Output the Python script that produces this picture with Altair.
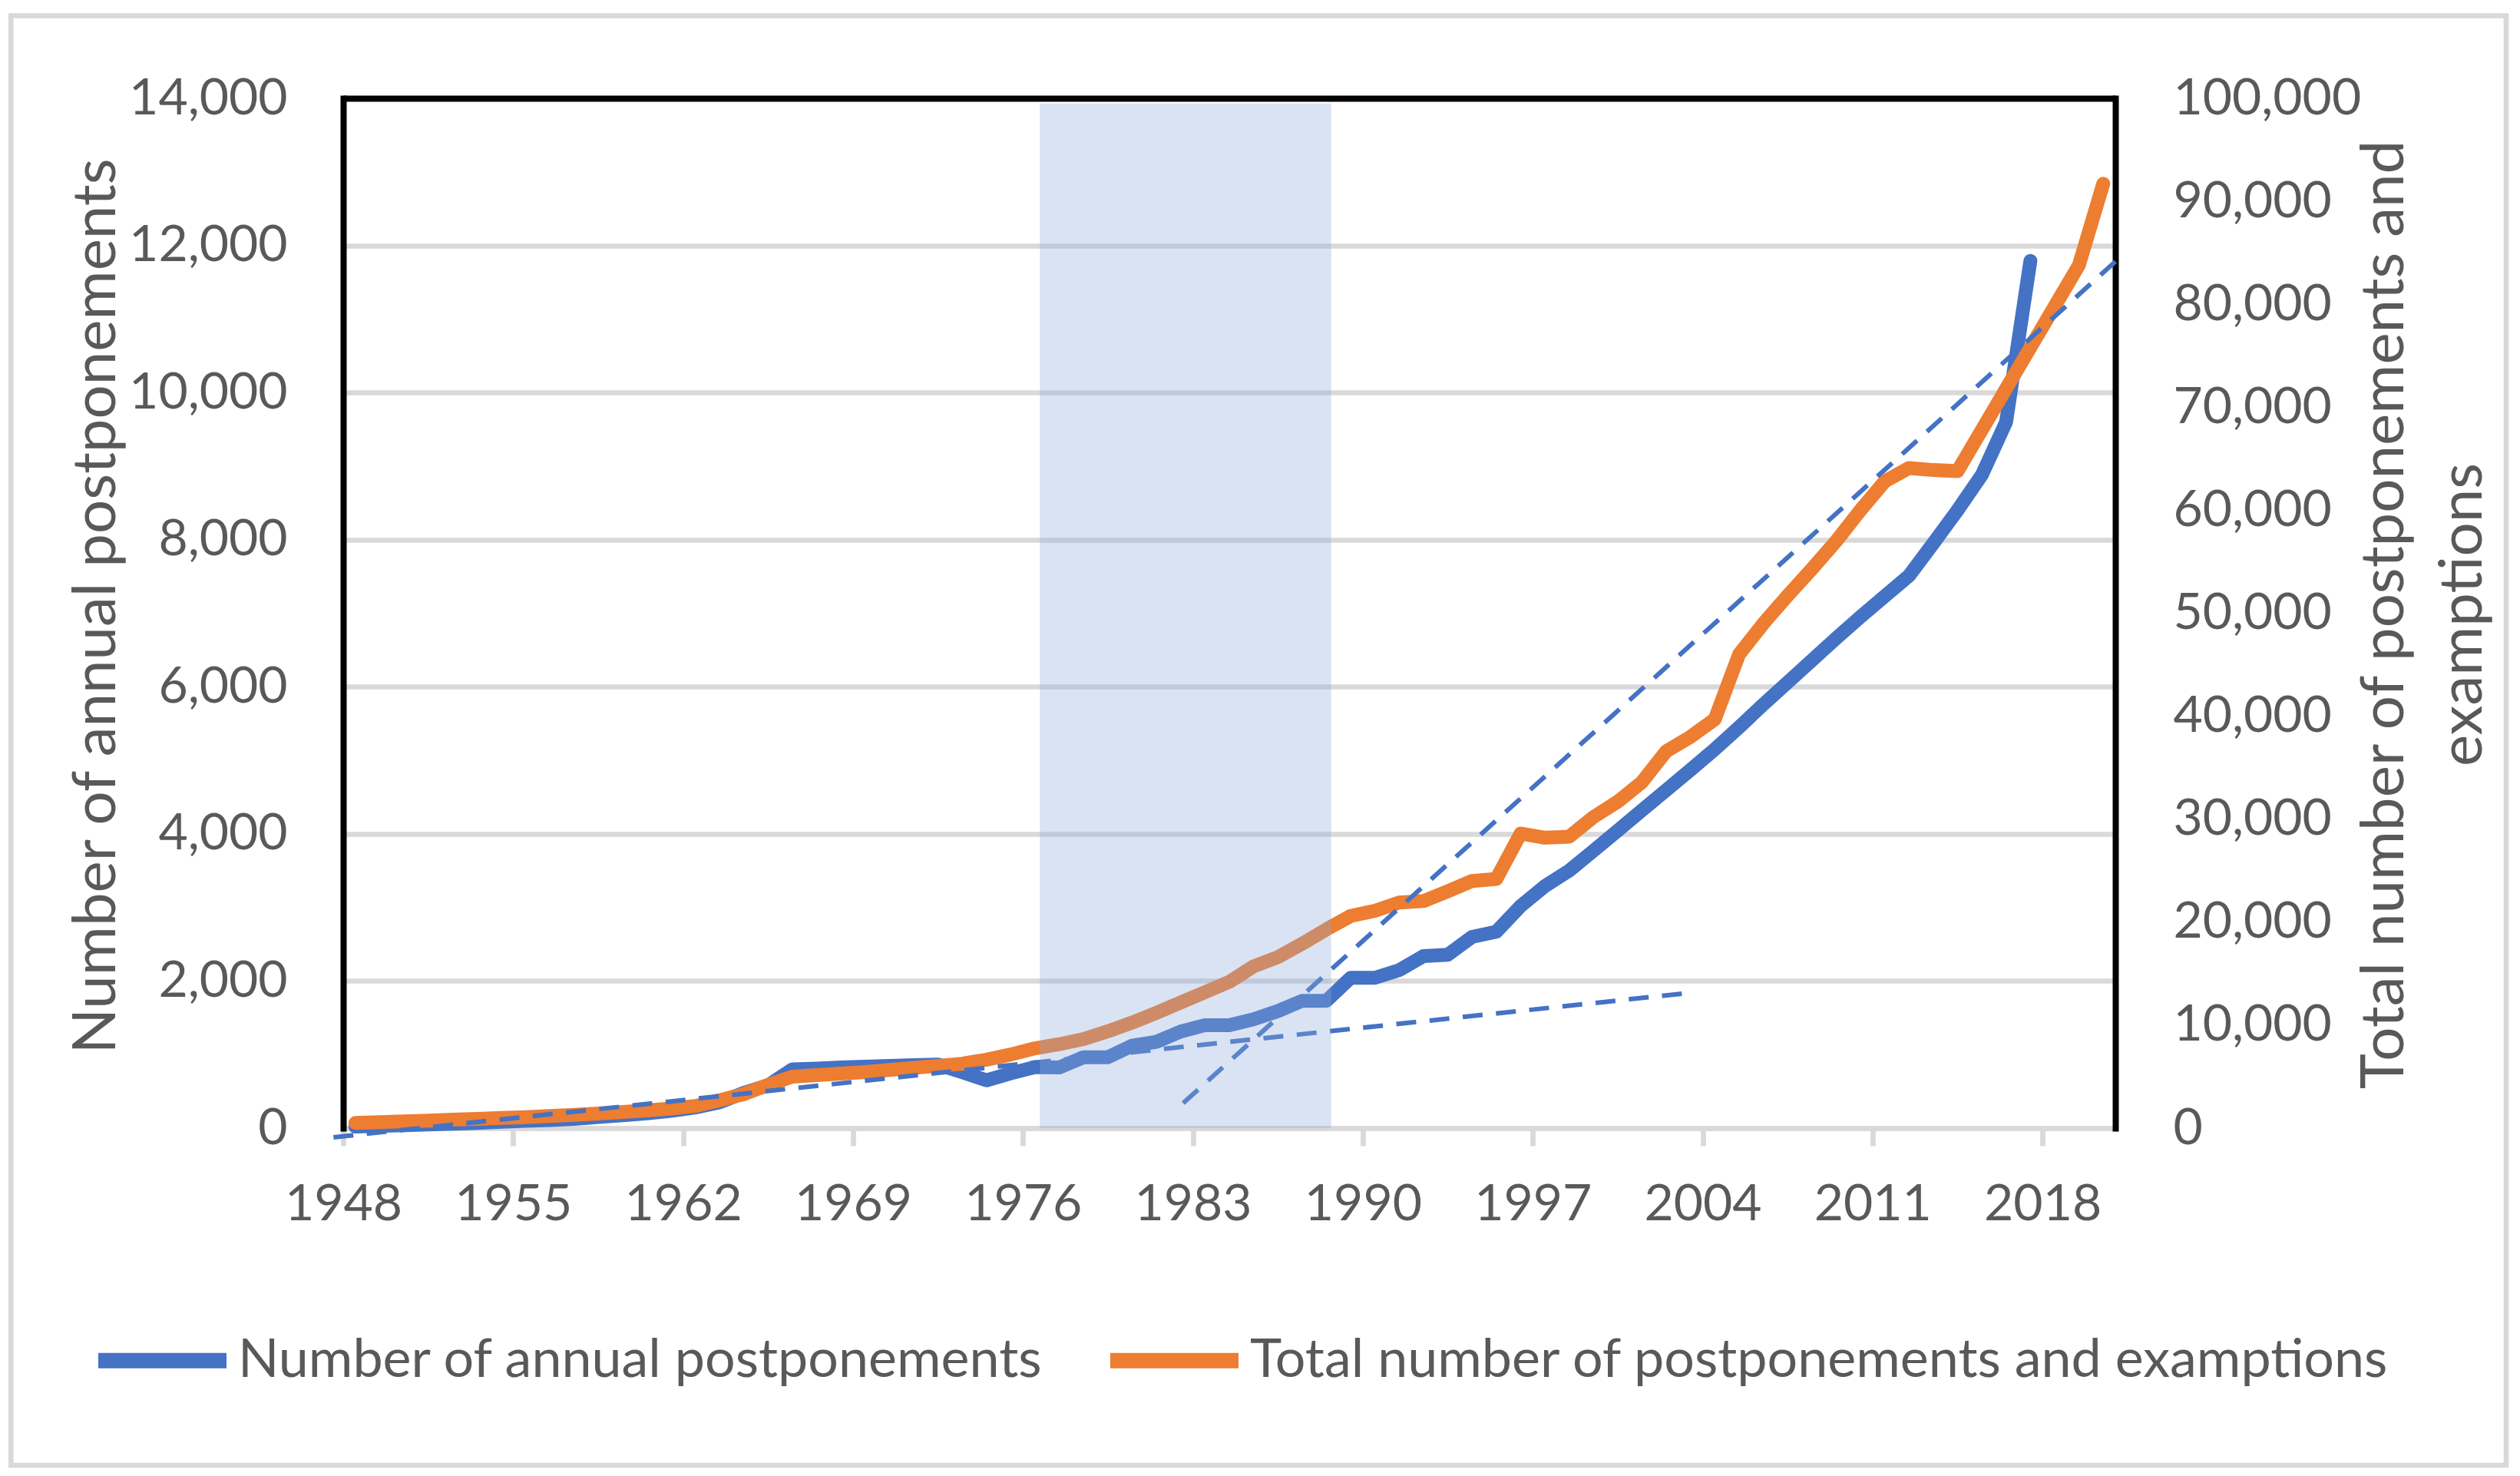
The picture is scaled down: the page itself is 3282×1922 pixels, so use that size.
import altair as alt
import pandas as pd

S1 = "Number of annual postponements"
S2 = "Total number of postponements and examptions"

years_annual = list(range(1948, 2018))
annual = [20, 30, 40, 50, 60, 70, 85, 100, 110, 125,
          150, 175, 200, 235, 280, 350, 480, 580, 800, 810,
          825, 835, 845, 855, 865, 760, 650, 745, 830, 825,
          964, 964, 1120, 1173, 1313, 1400, 1400, 1480, 1591, 1730,
          1730, 2044, 2044, 2148, 2339, 2357, 2600, 2670, 3018, 3290,
          3500, 3770, 4045, 4320, 4595, 4870, 5150, 5450, 5760, 6060,
          6360, 6660, 6950, 7230, 7509, 7950, 8400, 8880, 9600, 11790]

years_total = list(range(1948, 2021))
total = [500, 580, 650, 730, 820, 900, 980, 1070, 1170, 1290,
         1420, 1560, 1720, 1900, 2150, 2700, 3300, 4200, 5000, 5150,
         5300, 5450, 5650, 5850, 6050, 6250, 6650, 7150, 7750, 8150,
         8650, 9400, 10250, 11200, 12200, 13200, 14200, 15700, 16600, 17900,
         19300, 20600, 21100, 21900, 22050, 23000, 24000, 24200, 28600, 28200,
         28300, 30200, 31700, 33600, 36600, 38000, 39700, 46000, 49000, 51700,
         54300, 57000, 60000, 62800, 64100, 63900, 63800, 67800, 71800, 75800,
         79800, 83800, 91700]

# trend lines (axis units)
trend_a_x = [1947.6, 2003.5]
trend_a_y = [-125, 1840]
trend_b_x = [1982.6, 2021.0]
trend_b_y = [340, 11780]

# highlighted period
band_x = [1976.7, 1988.7]
band_y = [0, 13930]

x_ticks = list(range(1948, 2019, 7))
left_ticks = list(range(0, 14001, 2000))
right_ticks = list(range(0, 100001, 10000))

BLUE = "#4472C4"
ORANGE = "#ED7D31"
GRAY = "#D9D9D9"
TEXT = "#595959"
FONT = "Lato"

df_annual = pd.DataFrame({"year": years_annual, "value": annual, "series": S1})
df_total = pd.DataFrame({"year": years_total, "value": total, "series": S2})
df_ta = pd.DataFrame({"x": trend_a_x, "y": trend_a_y})
df_tb = pd.DataFrame({"x": trend_b_x, "y": trend_b_y})
df_band = pd.DataFrame({"x": [band_x[0]], "x2": [band_x[1]],
                        "y": [band_y[0]], "y2": [band_y[1]]})
df_frame = pd.DataFrame({"k": [0]})

xscale = alt.Scale(domain=[1948, 2021], nice=False, zero=False)
lscale = alt.Scale(domain=[0, 14000], nice=False, zero=False)
rscale = alt.Scale(domain=[0, 100000], nice=False, zero=False)

color = alt.Color(
    "series:N",
    scale=alt.Scale(domain=[S1, S2], range=[BLUE, ORANGE]),
    legend=alt.Legend(
        title=None, orient="none", legendX=-329, legendY=1550,
        direction="horizontal", symbolType="stroke", symbolSize=27889,
        symbolStrokeWidth=20, labelFontSize=70, labelFont=FONT,
        labelColor=TEXT, labelOffset=5, columnPadding=46, labelLimit=3000,
    ),
)

x_axis = alt.Axis(
    values=x_ticks, format="d", title=None, grid=False,
    labelFont=FONT, labelFontSize=66, labelColor=TEXT,
    labelPadding=44, tickColor=GRAY, tickWidth=6.7, tickSize=23,
    domainColor=GRAY, domainWidth=6.7, labelFlush=False, labelOverlap=False,
)

left_axis = alt.Axis(
    values=left_ticks, format=",.0f", title=S1,
    labelFont=FONT, labelFontSize=66, labelColor=TEXT, labelPadding=73,
    ticks=False, tickSize=0, domain=True, domainColor="black", domainWidth=8,
    domainCap="square", labelLimit=1000,
    grid=True,
    gridColor={"condition": {"test": "datum.value === 14000", "value": "black"}, "value": GRAY},
    gridWidth={"condition": {"test": "datum.value === 14000", "value": 8}, "value": 6.7},
    titleFont=FONT, titleFontSize=78, titleColor=TEXT, titleFontWeight="normal",
    titleAngle=270, titleX=-298, titleY=661, titleAlign="center",
    titleBaseline="alphabetic", labelFlush=False,
)

right_axis = alt.Axis(
    values=right_ticks, format=",.0f", orient="right",
    title=["Total number of postponements and", "examptions"],
    labelFont=FONT, labelFontSize=66, labelColor=TEXT, labelPadding=75,
    ticks=False, tickSize=0, domain=True, domainColor="black", domainWidth=8,
    domainCap="square", grid=False, labelLimit=1000,
    titleFont=FONT, titleFontSize=78, titleColor=TEXT, titleFontWeight="normal",
    titleAngle=270, titleX=374, titleY=672, titleAlign="center",
    titleBaseline="alphabetic", titleLineHeight=102, labelFlush=False,
)

# light grey chart-area border
frame = alt.Chart(df_frame).mark_rect(
    filled=False, stroke=GRAY, strokeWidth=6.7
).encode(
    x=alt.value(-432.7), x2=alt.value(2817),
    y=alt.value(-107.5), y2=alt.value(1780),
)

blue = alt.Chart(df_annual).mark_line(
    strokeWidth=18, strokeCap="round", strokeJoin="round"
).transform_calculate(x="datum.year + 0.5").encode(
    x=alt.X("x:Q", scale=xscale, axis=x_axis),
    y=alt.Y("value:Q", scale=lscale, axis=left_axis),
    color=color,
)

orange = alt.Chart(df_total).mark_line(
    strokeWidth=18, strokeCap="round", strokeJoin="round"
).transform_calculate(x="datum.year + 0.5").encode(
    x=alt.X("x:Q", scale=xscale, axis=x_axis),
    y=alt.Y("value:Q", scale=rscale, axis=right_axis),
    color=color,
)

trend_a = alt.Chart(df_ta).mark_line(
    strokeWidth=6, strokeDash=[26, 17.5], color=BLUE
).encode(
    x=alt.X("x:Q", scale=xscale, axis=x_axis),
    y=alt.Y("y:Q", scale=lscale, axis=None),
)

trend_b = alt.Chart(df_tb).mark_line(
    strokeWidth=6, strokeDash=[26, 17.5], color=BLUE
).encode(
    x=alt.X("x:Q", scale=xscale, axis=x_axis),
    y=alt.Y("y:Q", scale=lscale, axis=None),
)

band = alt.Chart(df_band).mark_rect(color="#8FAADC", opacity=0.33).encode(
    x=alt.X("x:Q", scale=xscale, axis=x_axis),
    x2="x2:Q",
    y=alt.Y("y:Q", scale=lscale, axis=None),
    y2="y2:Q",
)

chart = alt.layer(blue, orange, trend_a, trend_b, band, frame).resolve_scale(
    y="independent"
).properties(
    width=2308, height=1341,
    autosize=alt.AutoSizeParams(type="none"),
    padding={"left": 439, "top": 120, "right": 513, "bottom": 443},
    background="white",
).configure_view(stroke=None)

chart.save("out.html", embed_options={"renderer": "svg", "actions": False})
